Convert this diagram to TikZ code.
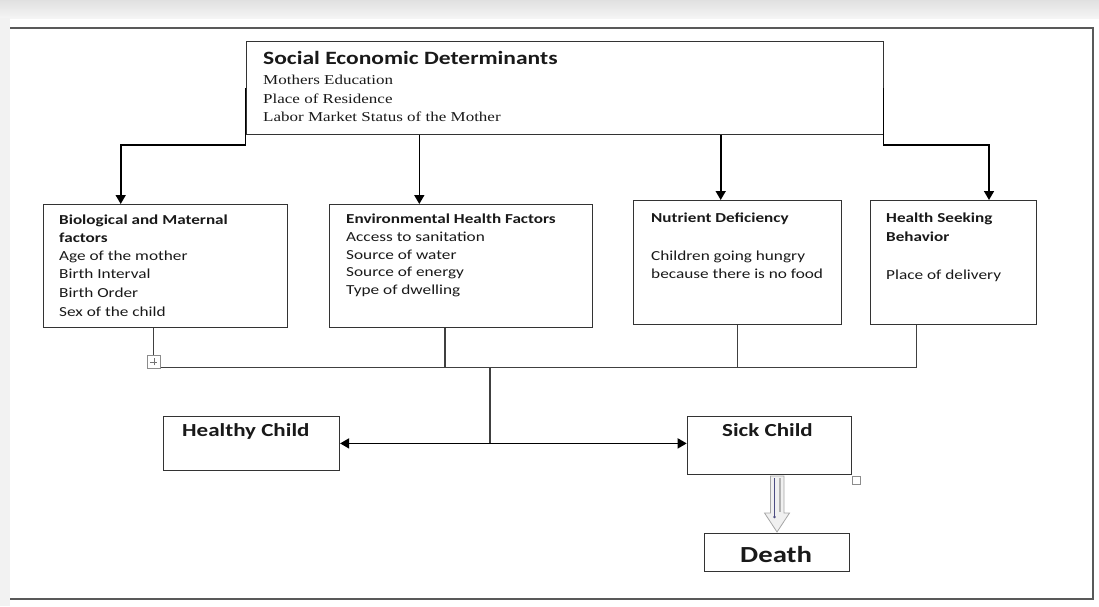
\documentclass[tikz,border=0pt]{standalone}
\usepackage{fontspec}
\setmainfont[FakeStretch=1.25]{Carlito}
\newfontfamily\timesf[FakeStretch=1.25]{Liberation Serif}
\usetikzlibrary{arrows.meta,calc}
\newcommand\fTitle{\fontsize{18.8}{20}\selectfont\bfseries}
\newcommand\fTimes{\timesf\fontsize{13.6}{16}\selectfont}
\newcommand\fHead{\fontsize{13.7}{16}\selectfont\bfseries}
\newcommand\fItem{\fontsize{13.8}{17}\selectfont}
\newcommand\fBig{\fontsize{18.4}{20}\selectfont\bfseries}
\newcommand\fDeath{\fontsize{23}{24}\selectfont\bfseries}
\tikzset{
  frame/.style={draw=black!65, line width=1.2pt},
  box/.style={draw=black!80, line width=1.1pt, rectangle, inner sep=0pt, anchor=north west},
  arr/.style={draw=black, line width=1.6pt, -{Triangle[length=9pt,width=10pt]}},
  link/.style={draw=black!75, line width=1.2pt},
  txt/.style={anchor=base west, inner sep=0pt, text=black!90},
  handle/.style={draw=black!45, fill=white, line width=0.6pt},
}
\begin{document}
\begin{tikzpicture}[x=1pt,y=-1pt]
\useasboundingbox (0,0) rectangle (1099,606);
\shade[top color=black!12, bottom color=black!4] (0,0) rectangle (1099,18);
\fill[black!5] (0,18) rectangle (10,606);
\draw[frame] (10,28) -- (1093,28) -- (1093,599) -- (10,599);

% boxes
\node[box, minimum width=637pt, minimum height=93pt] (top) at (245.5,40.7) {};
\node[box, minimum width=243.4pt, minimum height=122.7pt] (bio) at (43.3,204) {};
\node[box, minimum width=262.7pt, minimum height=122.7pt] (env) at (329,204) {};
\node[box, minimum width=207.4pt, minimum height=124pt] (nut) at (633.3,200) {};
\node[box, minimum width=166pt, minimum height=124pt] (hsb) at (870,200) {};
\node[box, minimum width=176.3pt, minimum height=54.3pt] (healthy) at (162.7,415.7) {};
\node[box, minimum width=164pt, minimum height=58.3pt] (sick) at (686.7,415.7) {};
\node[box, minimum width=145.3pt, minimum height=37.4pt] (death) at (704,533.3) {};

% texts
\node[txt, font=\fTitle] (t0) at (263,64) {Social Economic Determinants};
\node[txt, font=\fTimes] (t1) at (263,84) {Mothers Education};
\node[txt, font=\fTimes] (t2) at (263,103) {Place of Residence};
\node[txt, font=\fTimes] (t3) at (263,121) {Labor Market Status of the Mother};

\node[txt, font=\fHead] (b0) at (59,224) {Biological and Maternal};
\node[txt, font=\fHead] (b1) at (59,242) {factors};
\node[txt, font=\fItem] (b2) at (59,260) {Age of the mother};
\node[txt, font=\fItem] (b3) at (59,278) {Birth Interval};
\node[txt, font=\fItem] (b4) at (59,297) {Birth Order};
\node[txt, font=\fItem] (b5) at (59,316) {Sex of the child};

\node[txt, font=\fHead] (e0) at (346,223) {Environmental Health Factors};
\node[txt, font=\fItem] (e1) at (346,241) {Access to sanitation};
\node[txt, font=\fItem] (e2) at (346,259) {Source of water};
\node[txt, font=\fItem] (e3) at (346,276) {Source of energy};
\node[txt, font=\fItem] (e4) at (346,294) {Type of dwelling};

\node[txt, font=\fHead] (n0) at (651,222) {Nutrient Deficiency};
\node[txt, font=\fItem] (n1) at (651,260) {Children going hungry};
\node[txt, font=\fItem] (n2) at (651,278) {because there is no food};

\node[txt, font=\fHead] (h0) at (886,222) {Health Seeking};
\node[txt, font=\fHead] (h1) at (886,241) {Behavior};
\node[txt, font=\fItem] (h2) at (886,279) {Place of delivery};

\node[txt, font=\fBig] (hc) at (182,436) {Healthy Child};
\node[txt, font=\fBig] (sc) at (722,436) {Sick Child};
\node[txt, font=\fDeath] (dt) at (740,562) {Death};

% top connectors
\coordinate (a1) at ([xshift=77.4pt]bio.north west);
\coordinate (a2) at ([xshift=90.3pt]env.north west);
\coordinate (a3) at ([xshift=87.4pt]nut.north west);
\coordinate (a4) at ([xshift=119pt]hsb.north west);
\draw[arr] (top.west) -- ++(0,57) -| (a1);
\draw[arr] (top.south -| a2) -- (a2);
\draw[arr] (top.south -| a3) -- (a3);
\draw[arr] (top.east) -- ++(0,57) -| (a4);

% bottom bus
\coordinate (bus) at (490,367.5);
\coordinate (d1) at ([xshift=110pt]bio.south west);
\coordinate (d2) at ([xshift=116pt]env.south west);
\coordinate (d3) at ([xshift=104pt]nut.south west);
\coordinate (d4) at ([xshift=46.7pt]hsb.south west);
\draw[link] (d1) -- (d1 |- bus) -- (d4 |- bus) -- (d4);
\draw[link] (d2) -- (d2 |- bus);
\draw[link] (d3) -- (d3 |- bus);
\coordinate (fork) at (bus |- healthy.east);
\draw[link] (bus) -- (fork);
\draw[arr] (fork) -- (healthy.east);
\draw[arr] (fork) -- (sick.west |- fork);

% move handle
\node[handle, minimum size=13pt, inner sep=0pt, anchor=north west] (mh) at (147,355) {};
\draw[black!55, line width=0.5pt] ([yshift=-3.5pt]mh.center) -- ([yshift=3.5pt]mh.center)
  ([xshift=-3.5pt]mh.center) -- ([xshift=3.5pt]mh.center);
\node[handle, minimum size=8pt, inner sep=0pt, anchor=north west] (sh) at (852,476) {};

% block arrow sick -> death
\draw[draw=black!35, fill=black!6, line width=0.8pt]
  (770.5,476) -- (784,476) -- (784,513) -- (789.5,513) -- (777,532) -- (764.5,513) -- (770.5,513) -- cycle;
\draw[draw=black!30, line width=1.2pt] (780,478) -- (780,512);
\draw[draw=blue!30!black!70, line width=0.8pt] (774.5,478) -- (774.5,516);
\fill[blue!30!black!70] (774.5,517) circle (1.3pt);
\end{tikzpicture}
\end{document}
